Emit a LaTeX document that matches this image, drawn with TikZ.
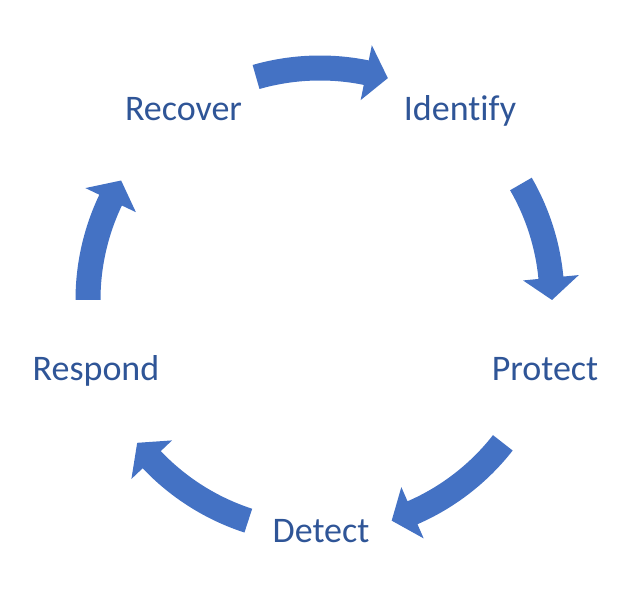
\documentclass[tikz,border=0pt]{standalone}
\usepackage{fontspec}
\setmainfont{Carlito}[Ligatures=NoCommon]
\usepackage{tikz}
\usetikzlibrary{
	calc,											% coordinate arithmetic
}
\definecolor{arrowblue}{HTML}{4472C4}
\definecolor{phaseblue}{HTML}{2F5597}
\tikzset{
	phase/.style={text=phaseblue, font=\fontsize{36}{43}\selectfont, anchor=base, inner sep=0pt},
	cyclearrow/.style={fill=arrowblue},
}
\begin{document}
\begin{tikzpicture}[x=1pt, y=1pt]
		\useasboundingbox (0,0) rectangle (641,599);
		\coordinate (C) at (320,299);
		% the five phases
		\node [phase] (recover)  at (183.5,478) {Recover};
		\node [phase] (identify) at (460,478)   {Identify};
		\node [phase] (protect)  at (545,218.5) {Protect};
		\node [phase] (detect)   at (321,56)    {Detect};
		\node [phase] (respond)  at (96,218.5)  {Respond};
		% curved block arrows, tail angle / tip angle
		\foreach \a/\b in {106/73, 30/0, -38/-72, -108/-142, 180/149}{
			\pgfmathsetmacro{\h}{\b+5.5}
			\fill [cyclearrow] ($(C)+(\a:244.5pt)$) arc [start angle=\a, end angle=\h, radius=244.5pt]
				-- ($(C)+(\h:260pt)$) -- ($(C)+(\b:232pt)$) -- ($(C)+(\h:204pt)$) -- ($(C)+(\h:219.5pt)$)
				arc [start angle=\h, end angle=\a, radius=219.5pt] -- cycle;
		}
	\end{tikzpicture}
\end{document}
